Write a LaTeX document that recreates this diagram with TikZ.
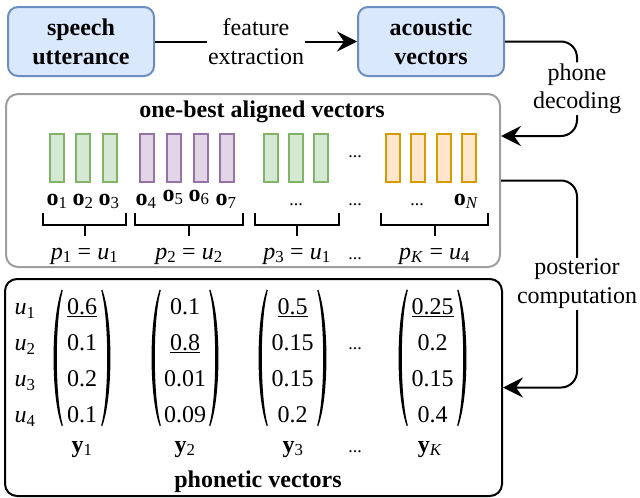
\documentclass[tikz,border=0pt]{standalone}
\usepackage{fontspec}
\setmainfont{Liberation Serif}
\usetikzlibrary{positioning}
\usetikzlibrary{calc}
\usetikzlibrary{arrows.meta}

\definecolor{bluefill}{HTML}{DAE8FC}
\definecolor{blueline}{HTML}{6C8EBF}
\definecolor{greenfill}{HTML}{D5E8D4}
\definecolor{greenline}{HTML}{82B366}
\definecolor{purplefill}{HTML}{E1D5E7}
\definecolor{purpleline}{HTML}{9673A6}
\definecolor{orangefill}{HTML}{FFE6CC}
\definecolor{orangeline}{HTML}{D79B00}
\definecolor{groupline}{HTML}{9E9E9E}

\newcommand{\bigtext}{\fontsize{24}{28.8}\selectfont}
\newcommand{\dotstext}{\fontsize{18}{20}\selectfont}
\newcommand{\colvec}[4]{\begin{tabular}{@{}c@{}}#1\\#2\\#3\\#4\end{tabular}}
\renewcommand{\arraystretch}{1.25}

\tikzset{
  every node/.style={font=\bigtext},
  block/.style={draw=blueline, fill=bluefill, line width=2pt, rounded corners=10pt,
    minimum width=146pt, minimum height=69pt, align=center, font=\bigtext\bfseries},
  frame/.style={line width=2pt, rounded corners=12pt, inner sep=0pt},
  bar/.style={line width=2pt, minimum width=14pt, minimum height=48pt, inner sep=0pt},
  greenbar/.style={bar, draw=greenline, fill=greenfill},
  purplebar/.style={bar, draw=purpleline, fill=purplefill},
  orangebar/.style={bar, draw=orangeline, fill=orangefill},
  vecnode/.style={inner sep=0pt, minimum height=137pt},
  conn/.style={line width=2pt, rounded corners=16pt, -{Stealth[length=20pt,width=20pt,inset=7pt]}},
  lbl/.style={fill=white, inner sep=1pt, align=center},
  brace/.style={line width=2pt},
  baselbl/.style={anchor=base, inner sep=0pt},
  dotsnode/.style={font=\dotstext, anchor=base, inner sep=0pt},
}

\begin{document}
\begin{tikzpicture}[x=1pt, y=-1pt]
\useasboundingbox (0,0) rectangle (640,498);

% top row
\node[block] (speech) at (81,41.5) {speech\\utterance};
\node[block] (acoustic) at (431,41.5) {acoustic\\vectors};

% group frames
\node[frame, draw=groupline, minimum width=494pt, minimum height=173pt] (aligned) at (253,180.5) {};
\node[frame, draw=black, minimum width=497pt, minimum height=217pt] (phonetic) at (253.5,387.5) {};
\node[baselbl, font=\bigtext\bfseries] (alignedtitle) at (262,117) {one-best aligned vectors};
\node[baselbl, font=\bigtext\bfseries] (phonetictitle) at (258,487) {phonetic vectors};

% frame bars
\foreach \x [count=\i] in {57,83,110} \node[greenbar] (ga-\i) at (\x,158) {};
\foreach \x [count=\i] in {147,174,201,227} \node[purplebar] (pb-\i) at (\x,158) {};
\foreach \x [count=\i] in {271,296,321} \node[greenbar] (gc-\i) at (\x,158) {};
\foreach \x [count=\i] in {393,418,444,469} \node[orangebar] (ok-\i) at (\x,158) {};
\node[dotsnode] (bardots) at (355,157) {...};

% frame labels
\node[baselbl] (o1) at (57,205) {\textbf{o}\textsubscript{1}};
\node[baselbl] (o2) at (83,205) {\textbf{o}\textsubscript{2}};
\node[baselbl] (o3) at (109,205) {\textbf{o}\textsubscript{3}};
\node[baselbl] (o4) at (146,205) {\textbf{o}\textsubscript{4}};
\node[baselbl] (o5) at (173,201) {\textbf{o}\textsubscript{5}};
\node[baselbl] (o6) at (199,201) {\textbf{o}\textsubscript{6}};
\node[baselbl] (o7) at (226,205) {\textbf{o}\textsubscript{7}};
\node[dotsnode] (o3dots) at (296,205) {...};
\node[dotsnode] (odots) at (355,205) {...};
\node[dotsnode] (oKdots) at (417,205) {...};
\node[baselbl] (oN) at (466,205) {\textbf{o}\textsubscript{\textit{N}}};

% segment braces
\foreach \a/\b in {43/126,135/243,255/339,381/488} {
  \draw[brace] (\a,213) |- (\b,225) -- (\b,213);
  \draw[brace] ({(\a+\b)/2},225) -- ++(0,11);
}
\node[baselbl] (p1) at (84.5,259) {\textit{p}\textsubscript{1} = \textit{u}\textsubscript{1}};
\node[baselbl] (p2) at (189,259) {\textit{p}\textsubscript{2} = \textit{u}\textsubscript{2}};
\node[baselbl] (p3) at (297,259) {\textit{p}\textsubscript{3} = \textit{u}\textsubscript{1}};
\node[dotsnode] (pdots) at (355,259) {...};
\node[baselbl] (pK) at (434.5,259) {\textit{p}\textsubscript{\textit{K}} = \textit{u}\textsubscript{4}};

% phonetic vectors
\node (ulab) at (25,361.5) {\colvec{\textit{u}\textsubscript{1}}{\textit{u}\textsubscript{2}}{\textit{u}\textsubscript{3}}{\textit{u}\textsubscript{4}}};
\node[vecnode, minimum width=60pt] (m1) at (82,361.5) {\colvec{\underline{0.6}}{0.1}{0.2}{0.1}};
\node[vecnode, minimum width=70pt] (m2) at (185,361.5) {\colvec{0.1}{\underline{0.8}}{0.01}{0.09}};
\node[vecnode, minimum width=71pt] (m3) at (292.5,361.5) {\colvec{\underline{0.5}}{0.15}{0.15}{0.2}};
\node[dotsnode] (mdots) at (355,349) {...};
\node[vecnode, minimum width=71pt] (mK) at (432.5,361.5) {\colvec{\underline{0.25}}{0.2}{0.15}{0.4}};
\foreach \m in {m1,m2,m3,mK} {
  \begin{scope}[shift={(\m.north west)}]
    \fill (10,0) .. controls (-1,30) and (-1,107) .. (10,137) -- (11,136)
      .. controls (3,107) and (3,30) .. (11,1) -- cycle;
  \end{scope}
  \begin{scope}[shift={(\m.north east)}]
    \fill (-10,0) .. controls (1,30) and (1,107) .. (-10,137) -- (-11,136)
      .. controls (-3,107) and (-3,30) .. (-11,1) -- cycle;
  \end{scope}
}
\node[baselbl] (y1) at (82,452) {\textbf{y}\textsubscript{1}};
\node[baselbl] (y2) at (185,452) {\textbf{y}\textsubscript{2}};
\node[baselbl] (y3) at (293,452) {\textbf{y}\textsubscript{3}};
\node[dotsnode] (ydots) at (355,452) {...};
\node[baselbl] (yK) at (430,452) {\textbf{y}\textsubscript{\textit{K}}};

% connectors
\coordinate (rail) at (577,0);
\coordinate (decin) at ([yshift=44.5pt]aligned.east);
\draw[conn] (speech) -- node[lbl] {feature\\extraction} (acoustic);
\draw[conn] (acoustic.east) -- (acoustic.east -| rail)
  -- node[lbl] {phone\\decoding} (rail |- decin) -- (decin);
\draw[conn] (aligned.east) -- (aligned.east -| rail)
  -- node[lbl] {posterior\\computation} (rail |- phonetic.east) -- (phonetic.east);
\end{tikzpicture}
\end{document}
